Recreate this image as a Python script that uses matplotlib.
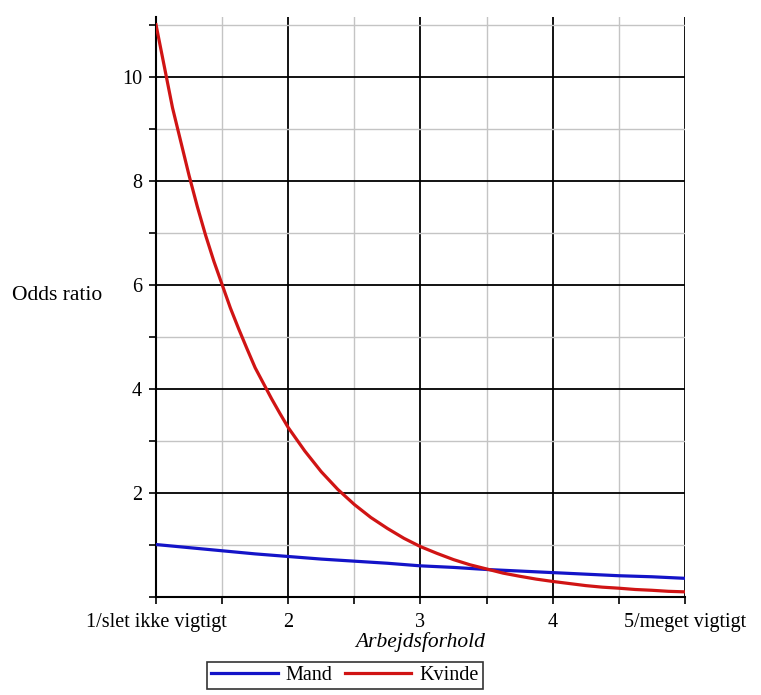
"""
Odds ratio vs. Arbejdsforhold, Mand / Kvinde
"""

import matplotlib
matplotlib.use("Agg")
import matplotlib.pyplot as plt
from matplotlib.ticker import MultipleLocator

# values
mand_x = [1.0, 1.25, 1.5, 1.75, 2.0, 2.25, 2.5, 2.75,
          3.0, 3.25, 3.5, 3.75, 4.0, 4.25, 4.5, 4.75, 5.0]
mand = [1.0, 0.94, 0.88, 0.82, 0.77, 0.72, 0.68, 0.64,
        0.59, 0.56, 0.52, 0.49, 0.46, 0.43, 0.40, 0.38, 0.35]

# denser near the steep start of the curve
kvinde_x = [1.0, 1.0625, 1.125, 1.1875, 1.25, 1.3125, 1.375, 1.4375,
            1.5, 1.5625, 1.625, 1.6875, 1.75, 1.8125, 1.875, 1.9375,
            2.0, 2.125, 2.25, 2.375, 2.5, 2.625, 2.75, 2.875,
            3.0, 3.125, 3.25, 3.375, 3.5, 3.625, 3.75, 3.875,
            4.0, 4.125, 4.25, 4.375, 4.5, 4.625, 4.75, 4.875, 5.0]
kvinde = [11.0, 10.2, 9.4, 8.75, 8.1, 7.5, 6.95, 6.45,
          6.0, 5.55, 5.15, 4.77, 4.4, 4.1, 3.8, 3.52,
          3.25, 2.8, 2.4, 2.06, 1.77, 1.52, 1.31, 1.12,
          0.96, 0.83, 0.71, 0.61, 0.53, 0.45, 0.39, 0.335,
          0.29, 0.25, 0.21, 0.18, 0.16, 0.135, 0.12, 0.10, 0.09]

x_ticks = [1, 2, 3, 4, 5]
x_ticklabels = ["1/slet ikke vigtigt", "2", "3", "4", "5/meget vigtigt"]
y_ticks = [2, 4, 6, 8, 10]

plt.rcParams["font.family"] = ["Liberation Serif", "DejaVu Serif"]

fig = plt.figure(figsize=(7.61, 6.95), dpi=100)
ax = fig.add_axes([0.205, 0.1417, 0.695, 0.834])

ax.plot(mand_x, mand, color="#1414c8", lw=2.3, label="Mand", zorder=3)
ax.plot(kvinde_x, kvinde, color="#d01414", lw=2.3, label="Kvinde", zorder=3)

ax.set_xlim(1, 5)
ax.set_ylim(0, 11.15)

ax.set_xticks(x_ticks)
ax.set_xticklabels(x_ticklabels)
ax.set_yticks(y_ticks)
ax.xaxis.set_minor_locator(MultipleLocator(0.5))
ax.yaxis.set_minor_locator(MultipleLocator(1))

ax.grid(which="major", color="black", lw=1.3)
ax.grid(which="minor", color="#c4c4c4", lw=1.0)
ax.set_axisbelow(True)

for s in ["top", "right"]:
    ax.spines[s].set_visible(False)
for s in ["left", "bottom"]:
    ax.spines[s].set_linewidth(1.5)

ax.tick_params(which="both", direction="out", length=5, width=1.2, labelsize=14.5)
ax.tick_params(axis="x", pad=7)
ax.tick_params(axis="y", pad=5)

ax.set_xlabel("Arbejdsforhold", fontsize=15.5, style="italic", labelpad=0)
fig.text(12 / 761, 1 - 295 / 695, "Odds ratio", fontsize=15.5, va="center", ha="left")

leg = fig.legend(loc="upper center", bbox_to_anchor=(345 / 761, 1 - 662 / 695), ncol=2,
                 fontsize=14.5, frameon=True, fancybox=False, edgecolor="black",
                 handlelength=3.3, columnspacing=0.6, handletextpad=0.4,
                 borderpad=0.2, borderaxespad=0)
leg.get_frame().set_linewidth(1.2)

fig.savefig("out.png", dpi=100)
